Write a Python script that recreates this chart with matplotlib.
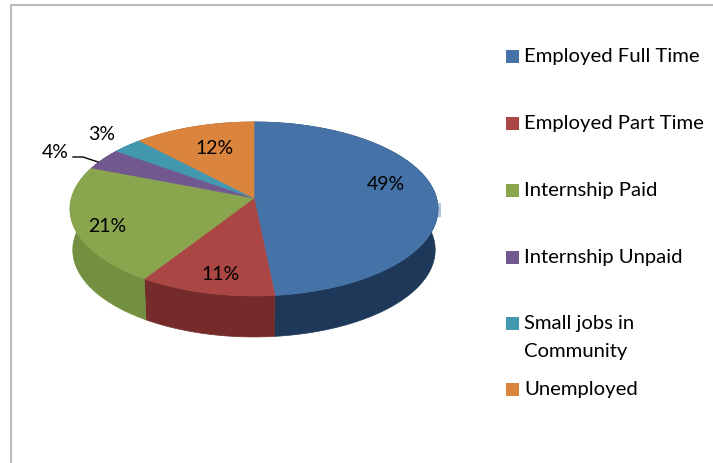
import matplotlib
matplotlib.use('Agg')
import matplotlib.pyplot as plt
from matplotlib.patches import Rectangle
import numpy as np

plt.rcParams['font.family'] = ['Lato', 'DejaVu Sans']

# data
categories = ['Employed Full Time', 'Employed Part Time', 'Internship Paid',
              'Internship Unpaid', 'Small jobs in\nCommunity', 'Unemployed']
shares = [49, 11, 21, 4, 3, 12]
top_colors = ['#4673A7', '#AA4643', '#89A54E', '#71588F', '#4198AF', '#DB843D']
wall_colors = ['#1E3859', '#742B29', '#72903F', '#4F3D66', '#2C6B7C', '#9C5D2A']

# pie geometry in image pixels
cx, cy = 254, 198
rx = 182.5
persp = -0.126
ry = 85.6
depth = 41


def project(t, r=1.0):
    # t is clockwise from 12 o'clock, tilted disc with a bit of perspective
    t = t - 0.065 * np.exp(-((t - 3.6) / 0.7) ** 2)  # near edge looks turned a little in the original
    u = r * np.sin(t)
    v = -r * np.cos(t)
    d = 1 + persp * v
    return cx + rx * u / d, cy + ry * v / d


fig = plt.figure(figsize=(7.13, 4.63), dpi=100)
ax = fig.add_axes([0, 0, 1, 1])
ax.set_xlim(0, 713)
ax.set_ylim(463, 0)
ax.axis('off')

# frame, only the top and left edges are in the crop
ax.plot([10.5, 10.5, 713], [463, 5, 5], color='#BDBDBD', lw=1.6, solid_joinstyle='miter')

# pale smudge on the right rim of the pie
ax.add_patch(Rectangle((436, 203), 5, 14, color='#AFC4DE', lw=0))

edges = np.cumsum([0] + shares) / sum(shares) * 2 * np.pi

# side wall first
for i in range(len(shares)):
    t = np.linspace(edges[i], edges[i + 1], 80)
    x, y = project(t)
    xb = cx + (x - cx) * 0.985
    yb = y + depth
    ax.fill(np.r_[x, xb[::-1]], np.r_[y, yb[::-1]], color=wall_colors[i], lw=0.5)

# top face
for i in range(len(shares)):
    t = np.linspace(edges[i], edges[i + 1], 80)
    x, y = project(t)
    ax.fill(np.r_[cx, x], np.r_[cy, y], color=top_colors[i], lw=0.5)

# value labels
label_pos = [(386, 184), (221, 275), (107, 226), (55, 153), (102, 134), (215, 148)]
for val, (lx, ly) in zip(shares, label_pos):
    ax.text(lx, ly, f'{val}%', ha='center', va='center', fontsize=14, color='black')

# leader line for the 4% slice
ax.plot([73, 83, 98], [157, 157, 162], color='black', lw=1)

# legend
legend_y = [56, 123, 190, 257, 323, 389]
for name, col, ly in zip(categories, top_colors, legend_y):
    ax.add_patch(Rectangle((506, ly - 6.5), 13, 13, color=col, lw=0))
    ax.text(524, ly - 8, name, ha='left', va='top', fontsize=14.6, color='black', linespacing=1.8)

fig.savefig('out.png', dpi=100)
